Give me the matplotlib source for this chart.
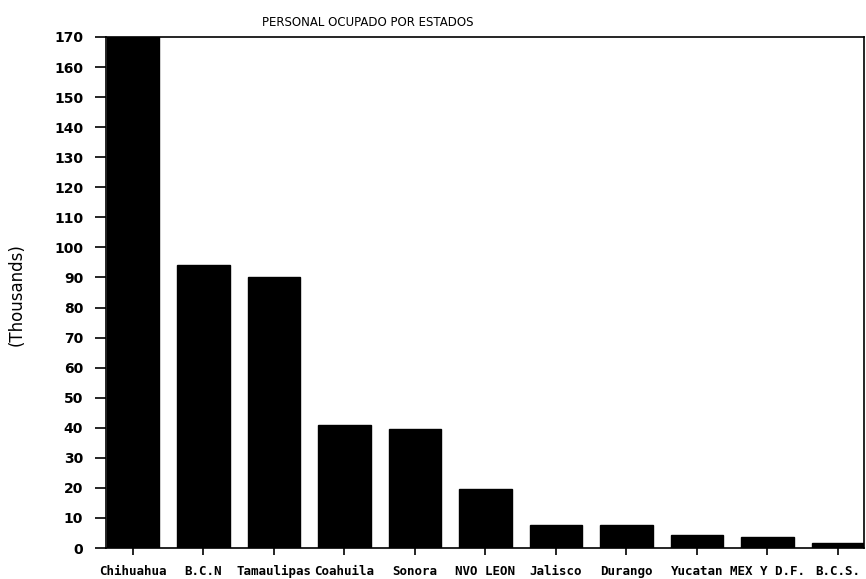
import matplotlib
matplotlib.use("Agg")
import matplotlib.pyplot as plt

# Data (thousands of people employed, by state)
estados = ['Chihuahua', 'B.C.N', 'Tamaulipas', 'Coahuila', 'Sonora', 'NVO LEON',
           'Jalisco', 'Durango', 'Yucatan', 'MEX Y D.F.', 'B.C.S.']
personal = [180, 94.3, 90.2, 40.8, 39.5, 19.8, 7.6, 7.6, 4.3, 3.8, 1.6]
yticks = list(range(0, 171, 10))

fig = plt.figure(figsize=(8.66, 5.79), dpi=100)
ax = fig.add_axes([0.1224, 0.0535, 0.8753, 0.8826])

x = list(range(len(estados)))
ax.bar(x, personal, width=0.74, color='black', edgecolor='black')

ax.set_xlim(-0.383, 10.369)
ax.set_ylim(0, 170)

# y axis ticks and labels
ax.set_yticks(yticks)
ax.set_yticklabels([str(t) for t in yticks], fontsize=10, fontweight='bold')
ax.tick_params(axis='y', direction='out', length=8, width=1.2, pad=8.5)

# x axis: monospace bold labels like the original plotter output
ax.set_xticks(x)
ax.set_xticklabels(estados, fontsize=9, fontweight='bold', family='DejaVu Sans Mono')
ax.tick_params(axis='x', direction='out', length=5, width=1.2, pad=7)

for side in ['left', 'right', 'top', 'bottom']:
    ax.spines[side].set_linewidth(1.2)
    ax.spines[side].set_color('black')

fig.text(368 / 866, 1 - 22 / 579, 'PERSONAL OCUPADO POR ESTADOS',
         ha='center', va='center', fontsize=8.5)
fig.text(17 / 866, 1 - 295 / 579, '(Thousands)', rotation=90,
         ha='center', va='center', fontsize=12)

fig.savefig('out.png', dpi=100)
